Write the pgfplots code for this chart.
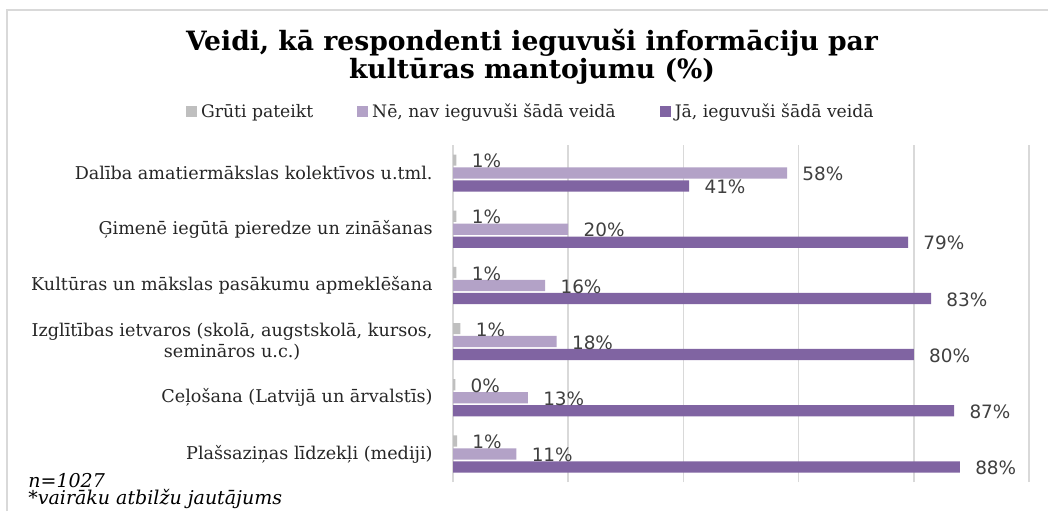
\documentclass[border=0pt]{standalone}
\usepackage{fontspec}
\setmainfont{DejaVu Serif}
\newfontfamily\sansf{DejaVu Sans}
\usepackage{pgfplots}
\pgfplotsset{compat=1.18}
\definecolor{cgray}{HTML}{BFBFBF}
\definecolor{clight}{HTML}{B3A2C7}
\definecolor{cdark}{HTML}{8064A2}
\definecolor{gridc}{HTML}{D9D9D9}
\definecolor{txt}{HTML}{404040}
\definecolor{cat}{HTML}{262626}
\begin{document}
\begin{tikzpicture}
\useasboundingbox (0,0) rectangle (524pt,255.5pt);
\fill[white] (0,0) rectangle (524pt,255.5pt);
\draw[gridc, line width=0.8pt] (3.5pt,0) -- (3.5pt,250.5pt) -- (524pt,250.5pt);
\node[font=\bfseries\fontsize{13.3}{15}\selectfont, anchor=base, inner sep=0pt] at (266pt,230.5pt) {Veidi, kā respondenti ieguvuši informāciju par};
\node[font=\bfseries\fontsize{13.3}{15}\selectfont, anchor=base, inner sep=0pt] at (266pt,216.5pt) {kultūras mantojumu (\%)};
\node[font=\itshape\fontsize{9.5}{10}\selectfont, anchor=base west, inner sep=0pt, text=black] at (14pt,12pt) {n=1027};
\node[font=\itshape\fontsize{9.5}{10}\selectfont, anchor=base west, inner sep=0pt, text=black] at (14pt,3.5pt) {*vairāku atbilžu jautājums};
\begin{axis}[
  at={(226.5pt,14.5pt)}, anchor=south west, scale only axis,
  width=288pt, height=168.5pt,
  xmin=0, xmax=100, ymin=-0.5, ymax=5.5,
  xbar, bar width=0.2,
  xtick={0,20,...,100}, xticklabels={}, xticklabel style={opacity=0},
  xmajorgrids, grid style={gridc, line width=0.8pt},
  ytick={0,...,5},
  yticklabels={Plašsaziņas līdzekļi (mediji), Ceļošana (Latvijā un ārvalstīs), {Izglītības ietvaros (skolā, augstskolā, kursos,\\semināros u.c.)}, Kultūras un mākslas pasākumu apmeklēšana, Ģimenē iegūtā pieredze un zināšanas, Dalība amatiermākslas kolektīvos u.tml.},
  major tick length=0pt,
  axis line style={draw=none},
  yticklabel style={font=\fontsize{8.8}{10.2}\selectfont, align=center, inner sep=0pt, xshift=-10pt, text=cat},
  point meta=x,
  nodes near coords={\pgfmathprintnumber[fixed,precision=0,assume math mode=true]{\pgfplotspointmeta}\%},
  nodes near coords align={horizontal},
  every node near coord/.append style={font=\sansf\fontsize{9.2}{10}\selectfont, text=txt, inner sep=0pt, xshift=7.5pt, yshift=-0.5pt},
  legend columns=3,
  legend style={at={(0.137,1.098)}, anchor=center, draw=none, fill=none, font=\fontsize{8.6}{10}\selectfont, text=cat, /tikz/every even column/.append style={column sep=20pt}},
  legend image code/.code={\fill[#1] (0pt,-2.75pt) rectangle (5.5pt,2.75pt);},
]
\addplot[fill=cgray, draw=none, bar shift=0.231] coordinates {(0.7,0) (0.4,1) (1.3,2) (0.6,3) (0.6,4) (0.6,5)};
\addplot[fill=clight, draw=none, bar shift=0] coordinates {(11,0) (13,1) (18,2) (16,3) (20,4) (58,5)};
\addplot[fill=cdark, draw=none, bar shift=-0.231] coordinates {(88,0) (87,1) (80,2) (83,3) (79,4) (41,5)};
\legend{Grūti pateikt, {Nē, nav ieguvuši šādā veidā}, {Jā, ieguvuši šādā veidā}}
\end{axis}
\end{tikzpicture}
\end{document}
